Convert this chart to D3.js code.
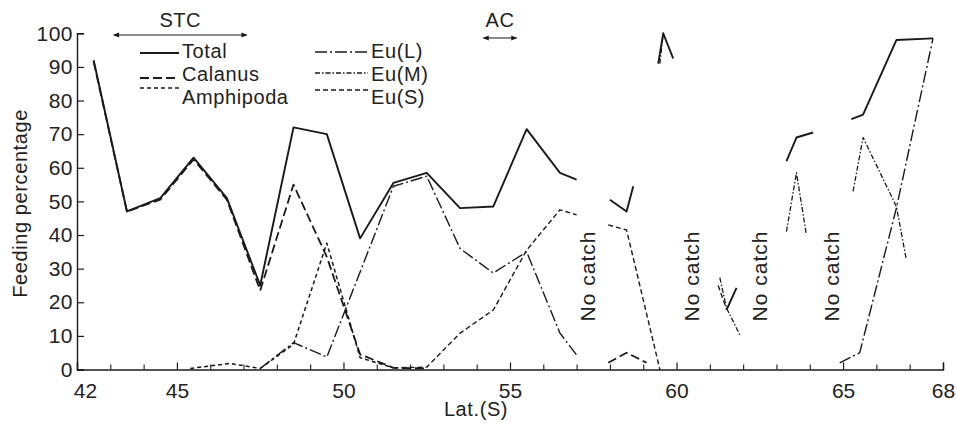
<!DOCTYPE html>
<html>
<head>
<meta charset="utf-8">
<script src="https://cdn.jsdelivr.net/npm/d3@7"></script>
<style>
  html, body { margin: 0; padding: 0; background: #fff; }
  svg { display: block; }
  text { font-family: "Liberation Sans", Arial, sans-serif; fill: #222; }
</style>
</head>
<body>
<svg id="chart" width="956" height="425"></svg>
<script>
// ---------------- data ----------------
const xTickLabels = [42, 45, 50, 55, 60, 65, 68];
const xMinorTicks = d3.range(43, 68);
const yTickLabels = [0, 10, 20, 30, 40, 50, 60, 70, 80, 90, 100];

const seriesNames = ["Total", "Calanus", "Amphipoda", "Eu(L)", "Eu(M)", "Eu(S)"];

const totalLat = [42.5,43.5,44.5,45.5,46.5,47.5,48.5,49.5,50.5,51.5,52.5,53.5,54.5,55.5,56.5,57.0,null,58.0,58.5,58.7,null,59.45,59.6,59.9,null,61.5,61.8,null,63.3,63.6,64.1,null,65.25,65.6,66.6,67.7];
const totalVal = [92,47,51,63,51,25,72,70,39,55.5,58.5,48,48.5,71.5,58.5,56.5,null,50.5,47,54.5,null,91,100,92.5,null,17.7,24.3,null,62,69,70.5,null,74.5,75.8,98,98.5];

const calanusLat = [42.5,43.5,44.5,45.5,46.5,47.5,48.5,49.5,50.5,51.5,52.5,null,57.95,58.5,59.1];
const calanusVal = [91.5,47,50.5,62.5,50.5,23.5,55,33.5,4.5,0.5,0.3,null,2,5,2];

const amphipodaLat = [45.4,46.6,47.5,48.5,49.5,50.5,51.5];
const amphipodaVal = [0.3,1.8,0.3,7.5,37.6,3.5,0.5];

const euLLat = [47.5,48.5,49.5,50.5,51.5,52.5,53.5,54.5,55.5,56.5,57.0,null,64.9,65.5,66.6,67.7];
const euLVal = [0.3,8,3.7,29,54.5,57.5,36,28.7,35,10.8,4.3,null,2,5,48,98.5];

const euMLat = [59.5,59.6,null,61.3,61.5,61.9,null,63.3,63.6,63.9,null,65.3,65.6,66.6,66.9];
const euMVal = [91,100,null,27.3,18.3,10.3,null,41,58.5,40,null,53,69,48.5,32.6];

const euSLat = [51.5,52.5,53.5,54.5,55.5,56.5,57.0,null,57.95,58.5,59.5,null,61.25,61.5];
const euSVal = [0.5,0.7,10.8,17.7,35.5,47.5,46,null,43,41.5,0,null,25,18];

const noCatchLat = [57.4, 60.5, 62.55, 64.7];
const frontNames = ["STC", "AC"];
const frontFrom = [43.1, 54.2];
const frontTo = [47.1, 55.2];

// ---------------- styles ----------------
const styles = {
  "Total":     { dash: null,          width: 1.9 },
  "Calanus":   { dash: "9,4",         width: 1.8 },
  "Amphipoda": { dash: "4,3",         width: 1.5 },
  "Eu(L)":     { dash: "12,3,2,3",    width: 1.4 },
  "Eu(M)":     { dash: "5,2,1.5,2",   width: 1.3 },
  "Eu(S)":     { dash: "5,3",         width: 1.4 }
};

const seriesData = {
  "Total": [totalLat, totalVal],
  "Calanus": [calanusLat, calanusVal],
  "Amphipoda": [amphipodaLat, amphipodaVal],
  "Eu(L)": [euLLat, euLVal],
  "Eu(M)": [euMLat, euMVal],
  "Eu(S)": [euSLat, euSVal]
};

// ---------------- chart ----------------
const svg = d3.select("#chart");
const x = d3.scaleLinear().domain([42, 68]).range([77, 943]);
const y = d3.scaleLinear().domain([0, 100]).range([369.5, 33.3]);
const ink = "#1a1a1a";

// axes
const xAxisMajor = d3.axisBottom(x).tickValues(xTickLabels).tickSize(-7).tickPadding(14).tickFormat(d3.format("d"));
const gx = svg.append("g").attr("transform", `translate(0,${y(0)})`).call(xAxisMajor);
gx.select(".domain").attr("stroke", ink).attr("stroke-width", 1.4);
gx.selectAll(".tick line").attr("stroke", ink).attr("stroke-width", 1.2);
gx.selectAll(".tick text").attr("font-size", 21).attr("fill", "#222")
  .attr("font-family", "Liberation Sans, Arial, sans-serif");
gx.selectAll(".tick text").filter(d => d === 42).attr("dx", 8);

const xAxisMinor = d3.axisBottom(x).tickValues(xMinorTicks.filter(v => !xTickLabels.includes(v))).tickSize(-5).tickFormat("");
const gxm = svg.append("g").attr("transform", `translate(0,${y(0)})`).call(xAxisMinor);
gxm.select(".domain").remove();
gxm.selectAll(".tick line").attr("stroke", ink).attr("stroke-width", 1.1);

const yAxis = d3.axisLeft(y).tickValues(yTickLabels).tickSize(-7).tickPadding(4).tickFormat(d3.format("d"));
const gy = svg.append("g").attr("transform", `translate(${x(42)},0)`).call(yAxis);
gy.select(".domain").attr("stroke", ink).attr("stroke-width", 1.4);
gy.selectAll(".tick line").attr("stroke", ink).attr("stroke-width", 1.2);
gy.selectAll(".tick text").attr("font-size", 21).attr("fill", "#222").attr("letter-spacing", 0.5)
  .attr("font-family", "Liberation Sans, Arial, sans-serif");

// axis titles
svg.append("text").attr("transform", `translate(22,${(y(0)+y(100))/2 + 2}) rotate(-90)`)
  .attr("text-anchor", "middle").attr("dominant-baseline", "middle")
  .attr("font-size", 20).attr("letter-spacing", 0.6).text("Feeding percentage");
svg.append("text").attr("x", 476).attr("y", 411)
  .attr("text-anchor", "middle").attr("dominant-baseline", "middle")
  .attr("font-size", 20).attr("letter-spacing", 0.6).text("Lat.(S)");

// series lines
const pts = name => {
  const [la, va] = seriesData[name];
  return la.map((l, i) => ({ lat: l, v: va[i] }));
};
const line = d3.line()
  .defined(d => d.lat != null && d.v != null)
  .x(d => x(d.lat)).y(d => y(d.v));

seriesNames.slice().reverse().forEach(name => {
  const st = styles[name];
  svg.append("path")
    .datum(pts(name))
    .attr("d", line)
    .attr("fill", "none")
    .attr("stroke", ink)
    .attr("stroke-width", st.width)
    .attr("stroke-dasharray", st.dash)
    .attr("stroke-linejoin", "round");
});

// "No catch" labels
noCatchLat.forEach(l => {
  svg.append("text")
    .attr("transform", `translate(${x(l)},${276}) rotate(-90)`)
    .attr("text-anchor", "middle").attr("dominant-baseline", "middle")
    .attr("font-size", 21).attr("letter-spacing", 1).text("No catch");
});

// fronts (STC, AC) with double arrows
const defs = svg.append("defs");
defs.append("marker").attr("id", "ah").attr("viewBox", "0 0 10 10")
  .attr("refX", 9).attr("refY", 5).attr("markerWidth", 7).attr("markerHeight", 5)
  .attr("orient", "auto-start-reverse")
  .append("path").attr("d", "M0,1 L10,5 L0,9 Z").attr("fill", ink);

const frontY = [35, 38];
const frontTextY = [22, 22];
frontNames.forEach((n, i) => {
  svg.append("line")
    .attr("x1", x(frontFrom[i])).attr("x2", x(frontTo[i]))
    .attr("y1", frontY[i]).attr("y2", frontY[i])
    .attr("stroke", ink).attr("stroke-width", 1.2)
    .attr("marker-start", "url(#ah)").attr("marker-end", "url(#ah)");
  svg.append("text")
    .attr("x", (x(frontFrom[i]) + x(frontTo[i])) / 2).attr("y", frontTextY[i])
    .attr("text-anchor", "middle").attr("dominant-baseline", "middle")
    .attr("font-size", 20).attr("letter-spacing", 0.5).text(n);
});

// legend
const legendItems = [
  { name: "Total",     x1: 140, x2: 179, ly: 53, ty: 53 },
  { name: "Calanus",   x1: 140, x2: 179, ly: 78, ty: 76 },
  { name: "Amphipoda", x1: 140, x2: 179, ly: 88, ty: 99 },
  { name: "Eu(L)",     x1: 315, x2: 368, ly: 52, ty: 53 },
  { name: "Eu(M)",     x1: 315, x2: 368, ly: 73, ty: 76 },
  { name: "Eu(S)",     x1: 315, x2: 368, ly: 90, ty: 99 }
];
const lg = svg.append("g");
legendItems.forEach(it => {
  const st = styles[it.name];
  lg.append("line").attr("x1", it.x1).attr("x2", it.x2).attr("y1", it.ly).attr("y2", it.ly)
    .attr("stroke", ink).attr("stroke-width", st.width).attr("stroke-dasharray", st.dash);
  lg.append("text").attr("x", it.x2 + 3).attr("y", it.ty)
    .attr("dominant-baseline", "middle").attr("font-size", 20).attr("letter-spacing", 0.6)
    .text(it.name);
});
</script>
</body>
</html>
